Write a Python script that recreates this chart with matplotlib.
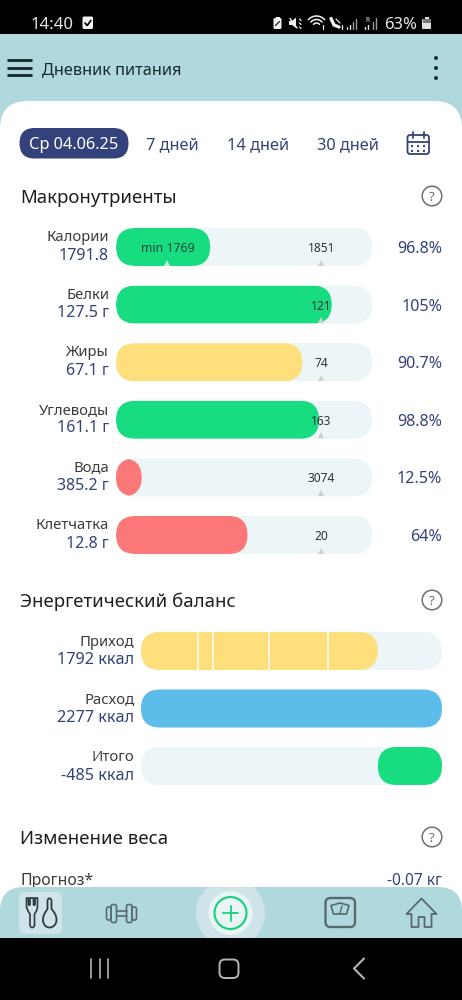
import math
import matplotlib
matplotlib.use("Agg")
import matplotlib.pyplot as plt
from matplotlib.patches import FancyBboxPatch, Rectangle, Circle, Polygon, PathPatch
from matplotlib.path import Path
from matplotlib.transforms import Bbox

plt.rcParams['font.family'] = ['Noto Sans', 'Open Sans', 'DejaVu Sans']

# ---------- data ----------
macro_names = ["Калории", "Белки", "Жиры", "Углеводы", "Вода", "Клетчатка"]
macro_values = ["1791.8", "127.5 г", "67.1 г", "161.1 г", "385.2 г", "12.8 г"]
macro_fill_pct = [45.8, 105, 90.7, 98.8, 12.5, 64]
macro_pct_labels = ["96.8%", "105%", "90.7%", "98.8%", "12.5%", "64%"]
macro_targets = ["1851", "121", "74", "163", "3074", "20"]
macro_colors = ["#18DC80", "#18DC80", "#FEDF7C", "#18DC80", "#FC7878", "#FC7878"]
macro_axis_max = 124.6
target_pct = 100
min_pct = 25
min_label = "min 1769"

energy_names = ["Приход", "Расход", "Итого"]
energy_labels = ["1792 ккал", "2277 ккал", "-485 ккал"]
energy_start = [0, 0, 1792]
energy_end = [1792, 2277, 2277]
energy_colors = ["#FEDF7C", "#5DBDEA", "#18DC80"]
energy_meal_splits = [431, 541, 972, 1411]
energy_axis_max = 2277

NAVY = "#34427C"
DARK = "#1E1E1E"
GREY = "#3C3C3C"
TEAL = "#AFD9DD"
TRACK = "#ECF5F7"
W, H = 462, 1000

fig = plt.figure(figsize=(W / 100, H / 100), dpi=100, facecolor="white")

bg = fig.add_axes([0, 0, 1, 1])
bg.set_xlim(0, W)
bg.set_ylim(H, 0)
bg.axis("off")


def rrect(ax, x0, y0, x1, y1, r, **kw):
    p = FancyBboxPatch((x0, y0), x1 - x0, y1 - y0,
                       boxstyle=f"round,pad=0,rounding_size={r}", lw=kw.pop("lw", 0), **kw)
    ax.add_patch(p)
    return p


def line(ax, xs, ys, c="#4A5A60", lw=1.4, **kw):
    ax.plot(xs, ys, color=c, lw=lw, solid_capstyle="round", solid_joinstyle="round", **kw)


def txt(x, y, s, size, c=DARK, ha="left", weight="normal", ax=bg, **kw):
    return ax.text(x, y, s, fontsize=size, color=c, ha=ha, va="center_baseline", fontweight=weight, **kw)


bg.add_patch(Rectangle((0, 34), W, 904, color=TEAL, lw=0))
bg.add_patch(Rectangle((0, 0), W, 34, color="black", lw=0))
rrect(bg, 0, 101, W, 960, 28, fc="white")

# status bar
ST = "#E8E8E8"
txt(31, 23, "14:40", 12, ST)
rrect(bg, 82.5, 16.5, 93, 29, 1.5, fc="#F2F2F2")
line(bg, [85, 87.3, 90.8], [23, 25.5, 20.5], c="black", lw=1.2)
rrect(bg, 273.5, 18, 281.5, 29, 1.5, fc="#F0F0F0")
bg.add_patch(Rectangle((275.5, 16.5), 4, 2, color="#F0F0F0", lw=0))
line(bg, [275.5, 279.5], [25.5, 21.5], c="#333333", lw=1.0)
bg.add_patch(Polygon([(289, 21), (292, 21), (296, 17.5), (296, 28), (292, 25), (289, 25)], fc="#F0F0F0", lw=0))
line(bg, [290, 297], [18.5, 28], c="#F0F0F0", lw=1.0)
for yy in (19, 23, 27):
    line(bg, [299.5, 301], [yy, yy + 1.5], c="#F0F0F0", lw=.9)
for r in (4, 7.5, 11):
    th = [i / 10 for i in range(11)]
    line(bg, [316.5 + r * (t - .5) * 1.5 for t in th],
         [27 - r * math.sqrt(1 - ((t - .5) * 1.5) ** 2) for t in th], c="#F0F0F0", lw=1.1)
line(bg, [323, 323], [24.5, 29], c="#F0F0F0", lw=.9)
line(bg, [331, 334, 339], [18.5, 25, 27], c="#F0F0F0", lw=2.4)
line(bg, [336, 340], [19, 23], c="#F0F0F0", lw=.9)
line(bg, [341.5, 341.5], [25, 28.5], c="#F0F0F0", lw=.9)
for i, h_ in enumerate((2, 4, 7, 10)):
    line(bg, [347 + i * 3] * 2, [28.5 - h_, 28.5], c="#9A9A9A" if i > 1 else "#E0E0E0", lw=1.0)
txt(367, 19.5, "R", 4.6, "#F0F0F0", ha="center")
for i, h_ in enumerate((2, 4)):
    line(bg, [365 + i * 3] * 2, [28.5 - h_, 28.5], c="#E0E0E0", lw=1.0)
for i, h_ in enumerate((7, 11)):
    line(bg, [372.5 + i * 3] * 2, [28.5 - h_, 28.5], c="#9A9A9A", lw=1.0)
txt(384, 23, "63%", 12, ST)
rrect(bg, 422, 19, 431, 29, 1, fc="#E0E0E0")
bg.add_patch(Rectangle((424.5, 16.5), 4, 2.5, color="#E0E0E0", lw=0))
bg.add_patch(Rectangle((422.5, 19), 8, 3.5, color="#777777", lw=0))

# app bar
for y in (60, 67.5, 75):
    line(bg, [8, 31], [y, y], c="#16262B", lw=2.0)
txt(42, 68, "Дневник питания", 11.8, "#1C2A2E", weight="medium")
for y in (58, 68, 78):
    bg.add_patch(Circle((436, y), 2, color="#1C2A2E", lw=0))

# date tabs
rrect(bg, 19.5, 128, 128.5, 158.5, 15.2, fc=NAVY)
txt(74, 143, "Ср 04.06.25", 11.8, "white", ha="center", weight="medium")
txt(172, 143, "7 дней", 11.8, NAVY, ha="center", weight="medium")
txt(258, 143, "14 дней", 11.8, NAVY, ha="center", weight="medium")
txt(348, 143, "30 дней", 11.8, NAVY, ha="center", weight="medium")
rrect(bg, 407.5, 135, 429, 154, 2.5, fc="none", ec=NAVY, lw=1.3)
line(bg, [408, 429], [141.5, 141.5], c=NAVY, lw=1.3)
for x in (412.5, 424):
    line(bg, [x, x], [132, 137.5], c=NAVY, lw=1.3)
for yy in (146, 150.5):
    for x in (412, 418, 424):
        bg.add_patch(Rectangle((x - .8, yy - .8), 1.8, 1.8, color=NAVY, lw=0))


def section(y, s):
    txt(20, y, s, 13.4, DARK, weight="medium")
    bg.add_patch(Circle((432, y), 9.8, fc="none", ec="#6B6F72", lw=1.1))
    txt(432, y, "?", 9.5, "#6B6F72", ha="center")


section(196, "Макронутриенты")
section(600, "Энергетический баланс")
section(837, "Изменение веса")
txt(20, 879, "Прогноз*", 11.4, GREY)
txt(442, 879, "-0.07 кг", 11.2, NAVY, ha="right")


def pill_axes(x0, x1, y0, y1, xmax, n):
    ax = fig.add_axes([x0 / W, 1 - y1 / H, (x1 - x0) / W, (y1 - y0) / H])
    ax.set_xlim(0, xmax)
    ax.set_ylim(n - .5, -.5)
    ax.axis("off")
    ax.patch.set_alpha(0)
    return ax


def pill(ax, a, b, y, hh, rx, **kw):
    p = FancyBboxPatch((a, y - hh), b - a, 2 * hh,
                       boxstyle=f"round,pad=0,rounding_size={rx}",
                       mutation_aspect=hh / rx, lw=0, **kw)
    ax.add_patch(p)
    return p


def label(ax, s, xy, dx, dy, size, color, weight="normal", ha="right", zorder=5):
    ax.annotate(s, xy, xytext=(dx, dy), textcoords="offset pixels", ha=ha, va="center_baseline",
                fontsize=size, color=color, fontweight=weight, annotation_clip=False, zorder=zorder)


# macro chart
ROW = 57.6
ax1 = pill_axes(116, 372, 247 - ROW / 2, 535 + ROW / 2, macro_axis_max, len(macro_names))
HH = 19 / ROW
RX1 = 19 / 256 * macro_axis_max
for i, (name, val, fill, lab, tg, col) in enumerate(zip(macro_names, macro_values, macro_fill_pct,
                                                        macro_pct_labels, macro_targets, macro_colors)):
    track = pill(ax1, 0, macro_axis_max, i, HH, RX1, fc=TRACK, zorder=1)
    bar = pill(ax1, min(0, fill - 2 * RX1), fill, i, HH, RX1, fc=col, zorder=2)
    bar.set_clip_path(track)
    ax1.plot([target_pct], [i + .27], marker="^", ms=5, color="#CFCFCF", mew=0, zorder=3)
    label(ax1, tg, (target_pct, i), 0, 0, 8.6, "#333333", ha="center")
    label(ax1, name, (0, i), -7, 11.5, 10.7, GREY)
    label(ax1, val, (0, i), -7, -6.5, 11.5, NAVY, weight="medium")
    label(ax1, lab, (macro_axis_max, i), 70, 0, 11.6, NAVY, weight="medium")
ax1.plot([min_pct], [.27], marker="^", ms=5, color="#CFEFDF", mew=0, zorder=3)
label(ax1, min_label, (min_pct, 0), 0, 0, 8.9, "#1F4A38", ha="center")

# clipped unit sliver under the first value
clip = txt(108, 271, "ккал", 11.5, NAVY, ha="right", clip_on=True)
clip.set_clip_box(Bbox([[60, 1000 - 268], [115, 1000 - 263.5]]))

# energy chart
ROW2 = 57.5
ax2 = pill_axes(141, 442, 651 - ROW2 / 2, 766 + ROW2 / 2, energy_axis_max, len(energy_names))
HH2 = 19 / ROW2
RX2 = 19 / 301 * energy_axis_max
for i, (name, lab, a, b, col) in enumerate(zip(energy_names, energy_labels, energy_start, energy_end, energy_colors)):
    pill(ax2, 0, energy_axis_max, i, HH2, RX2, fc=TRACK, zorder=1)
    pill(ax2, a, b, i, HH2, RX2, fc=col, zorder=2)
    label(ax2, name, (0, i), -6.5, 10.5, 10.7, GREY)
    label(ax2, lab, (0, i), -6.5, -7.5, 11.7, NAVY, weight="medium")
ax2.vlines(energy_meal_splits, -HH2, HH2, color="white", lw=1.1, zorder=3)

# bottom navigation, above the chart axes
nav = fig.add_axes([0, 0, 1, 1], zorder=10)
nav.set_xlim(0, W)
nav.set_ylim(H, 0)
nav.axis("off")
nav.patch.set_alpha(0)
rrect(nav, 0, 887, W, 990, 24, fc=TEAL)
halo = Circle((230.5, 913), 34.5, fc="#CFE4E9", lw=0, zorder=2)
nav.add_patch(halo)
halo.set_clip_path(Rectangle((0, 887), W, 56, transform=nav.transData))
nav.add_patch(Circle((230.5, 913), 22, fc="#E9F4F5", lw=0, zorder=3))
nav.add_patch(Circle((230.5, 913), 16, fc="none", ec="#18CF7C", lw=1.5, zorder=4))
line(nav, [223, 238], [913, 913], c="#18CF7C", lw=1.3, zorder=4)
line(nav, [230.5, 230.5], [905.5, 920.5], c="#18CF7C", lw=1.3, zorder=4)

rrect(nav, 19, 892, 62, 934, 6, fc="#CFE4E9")
IC = "#2E3B40"
# fork outline
fork_v = [(26.5, 898), (28.5, 898), (28.5, 905), (30, 905), (30, 898), (33.5, 898), (33.5, 905), (35, 905),
          (35, 898), (37.5, 898), (37.5, 907), (36.5, 911), (34.5, 914), (34.5, 926), (33, 927.5), (31.5, 927.5),
          (30, 926), (30, 914), (28, 911), (26.5, 907)]
nav.add_patch(Polygon(fork_v, closed=True, fc="none", ec=IC, lw=1.2, joinstyle="round"))
# spoon outline
spoon_v = [(47.5, 901), (47.5, 897.5), (51.5, 897.5), (51.5, 901),
           (51.5, 905), (51.5, 907), (51.5, 909),
           (55, 913), (56.5, 916), (56.5, 920),
           (56.5, 924), (53.5, 927.5), (49.5, 927.5),
           (45.5, 927.5), (43, 924), (43, 920),
           (43, 916), (44.5, 913), (47.5, 909),
           (47.5, 907), (47.5, 905), (47.5, 901)]
codes = [Path.MOVETO] + [Path.CURVE4] * (len(spoon_v) - 1)
nav.add_patch(PathPatch(Path(spoon_v, codes), fc="none", ec=IC, lw=1.3))
# dumbbell
DB = "#5A6A70"
rrect(nav, 106.5, 907, 111, 920, 2, fc="none", ec=DB, lw=1.2)
rrect(nav, 111, 904.5, 116.5, 922.5, 2, fc="none", ec=DB, lw=1.2)
rrect(nav, 126.5, 904.5, 132, 922.5, 2, fc="none", ec=DB, lw=1.2)
rrect(nav, 132, 907, 136.5, 920, 2, fc="none", ec=DB, lw=1.2)
line(nav, [116.5, 126.5], [911, 911], c=DB, lw=1.2)
line(nav, [116.5, 126.5], [916, 916], c=DB, lw=1.2)
# scales
SC = "#5A676C"
rrect(nav, 325.5, 898, 355, 927, 5, fc="none", ec=SC, lw=1.7)
nav.add_patch(Polygon([(331, 905.5), (340, 903), (349, 905.5), (346.5, 914), (333.5, 914)],
                      fc="none", ec=SC, lw=1.2, joinstyle="round"))
line(nav, [342, 340], [906, 913], c=SC, lw=1.0)
# house
nav.add_patch(Polygon([(406.5, 914), (421.5, 898.5), (436.5, 914), (431.5, 914), (431.5, 927), (424.5, 927),
                       (424.5, 917), (418.5, 917), (418.5, 927), (411.5, 927), (411.5, 914)],
                      fc="none", ec=SC, lw=1.3, joinstyle="round"))

# black navigation strip
nav.add_patch(Rectangle((0, 938), W, 62, color="black", lw=0, zorder=6))
NV = "#B5B5B5"
for x in (91, 99.5, 108):
    line(nav, [x, x], [959, 978], c=NV, lw=1.2, zorder=7)
rrect(nav, 219.5, 959.5, 238.5, 978, 5.5, fc="none", ec=NV, lw=1.4, zorder=7)
line(nav, [364, 354, 364], [958.5, 968.5, 978.5], c=NV, lw=1.5, zorder=7)

fig.savefig("out.png", dpi=100, facecolor="white")
